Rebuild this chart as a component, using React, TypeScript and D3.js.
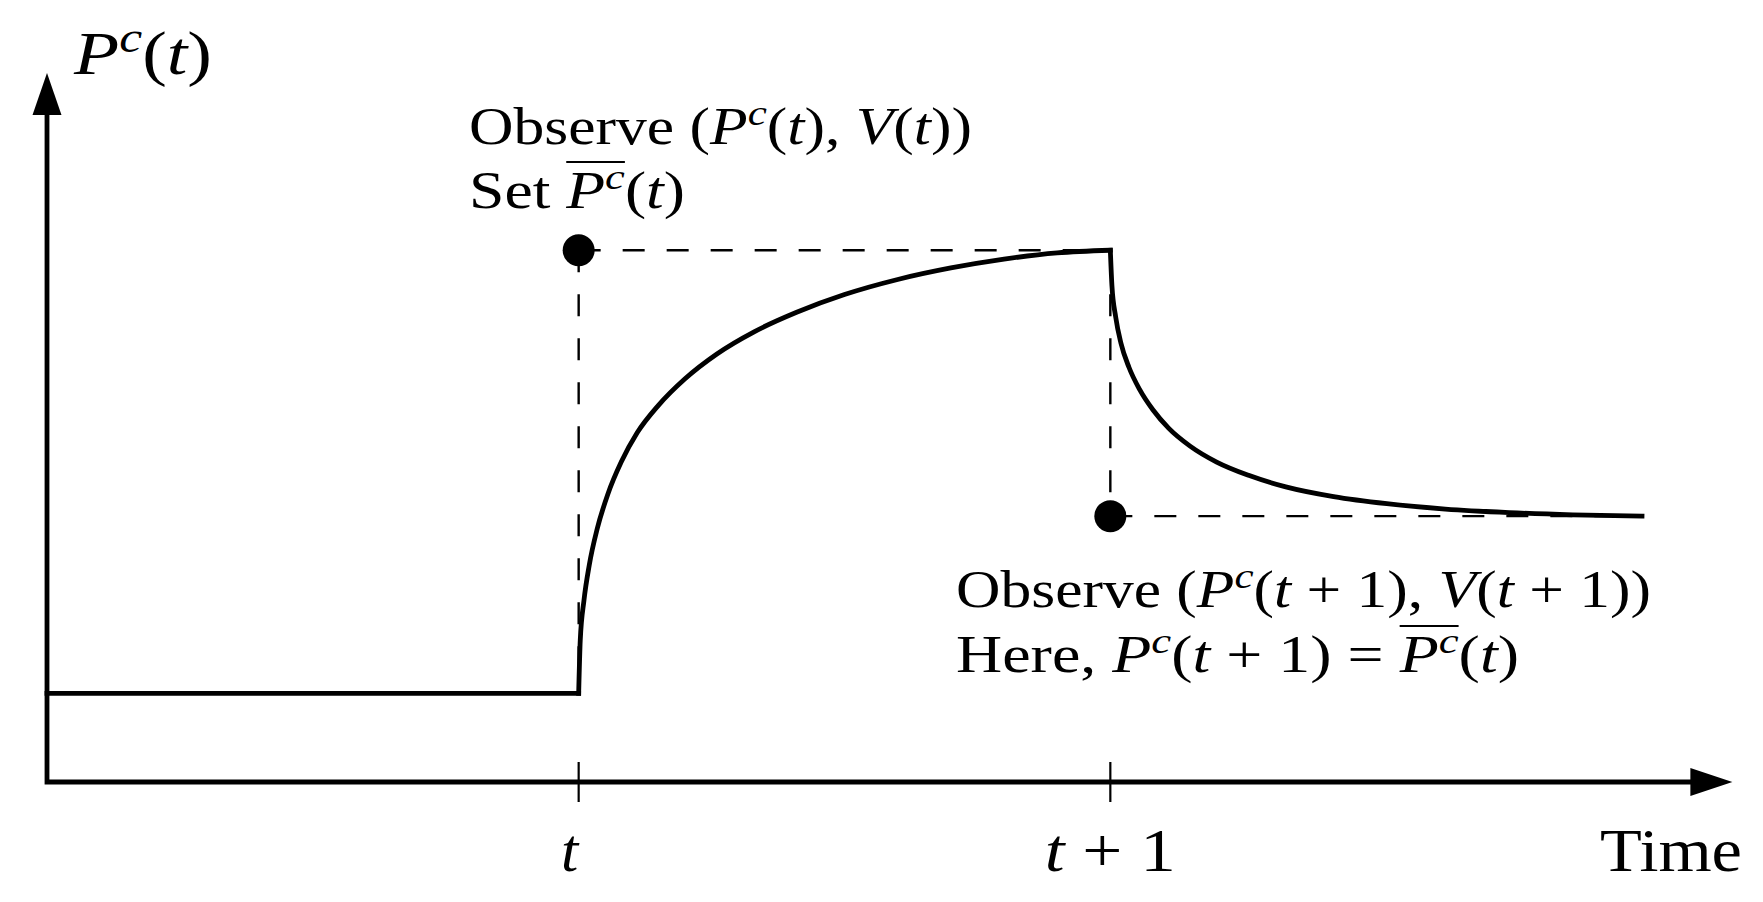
import React, { useRef, useEffect } from 'react';
import * as d3 from 'd3';

const W = 1763;
const H = 902;
const FONT = '"Liberation Serif", "Times New Roman", serif';

// time runs from the y axis (-1) past t (0) and t + 1 (1)
const timeDomain = [-1, 2];
const levelDomain = [0, 8];
const tickTimes = [0, 1];

// price path: [time, level]
const flatPart = [[-1, 1], [0, 1]];
const risePart = [
  [0, 1], [0.003, 1.6], [0.01, 2.05], [0.02, 2.45], [0.035, 2.86], [0.055, 3.25],
  [0.08, 3.61], [0.11, 3.94], [0.15, 4.25], [0.2, 4.55], [0.26, 4.83], [0.33, 5.08],
  [0.41, 5.3], [0.5, 5.5], [0.6, 5.67], [0.7, 5.8], [0.8, 5.9], [0.9, 5.97], [1, 6],
];
const fallPart = [
  [1, 6], [1.003, 5.6], [1.01, 5.25], [1.02, 4.95], [1.035, 4.68], [1.055, 4.43],
  [1.08, 4.2], [1.11, 3.99], [1.15, 3.79], [1.2, 3.61], [1.26, 3.46], [1.33, 3.33],
  [1.42, 3.22], [1.52, 3.14], [1.63, 3.08], [1.75, 3.04], [1.87, 3.015], [2, 3],
];
const observedPoints = [[0, 6], [1, 3]];
const guideLines = [
  [[0, 6], [0, 1]],
  [[0, 6], [1, 6]],
  [[1, 6], [1, 3]],
  [[1, 3], [2, 3]],
];

// text pieces: r = roman, i = italic, s = superscript, b = overlined
const yAxisLabel = [['P', 'i'], ['c', 's'], ['(', 'r'], ['t', 'i'], [')', 'r']];
const xAxisLabel = [['Time', 'r']];
const tickLabels = [
  [['t', 'i']],
  [['t', 'i'], [' + 1', 'r']],
];
const firstNote = [
  [['Observe (', 'r'], ['P', 'i'], ['c', 's'], ['(', 'r'], ['t', 'i'], ['), ', 'r'], ['V', 'i'], ['(', 'r'], ['t', 'i'], ['))', 'r']],
  [['Set ', 'r'], ['P', 'ib'], ['c', 'sb'], ['(', 'r'], ['t', 'i'], [')', 'r']],
];
const secondNote = [
  [['Observe (', 'r'], ['P', 'i'], ['c', 's'], ['(', 'r'], ['t', 'i'], [' + 1), ', 'r'], ['V', 'i'], ['(', 'r'], ['t', 'i'], [' + 1))', 'r']],
  [['Here, ', 'r'], ['P', 'i'], ['c', 's'], ['(', 'r'], ['t', 'i'], [' + 1) = ', 'r'], ['P', 'ib'], ['c', 'sb'], ['(', 'r'], ['t', 'i'], [')', 'r']],
];

const drawMath = (g, segs, x, y, fs, len, anchor = 'start') => {
  const text = g
    .append('text')
    .attr('x', x)
    .attr('y', y)
    .attr('font-size', fs)
    .attr('font-family', FONT)
    .attr('text-anchor', anchor)
    .style('white-space', 'pre');
  let off = 0;
  let idx = 0;
  const bars = [];
  segs.forEach(([str, st]) => {
    const sup = st[0] === 's';
    const target = sup ? -0.36 * fs : 0;
    const ts = text.append('tspan').attr('dy', target - off).text(str);
    off = target;
    if (st[0] !== 'r') ts.attr('font-style', 'italic');
    if (sup) ts.attr('font-size', fs * 0.7);
    if (st.includes('b')) bars.push([idx, idx + str.length - 1]);
    idx += str.length;
  });
  if (len) text.attr('textLength', len).attr('lengthAdjust', 'spacingAndGlyphs');
  if (bars.length) {
    const node = text.node();
    const a = node.getExtentOfChar(bars[0][0]);
    const b = node.getExtentOfChar(bars[bars.length - 1][1]);
    g.append('line')
      .attr('x1', a.x)
      .attr('x2', b.x + b.width)
      .attr('y1', y - 0.885 * fs)
      .attr('y2', y - 0.885 * fs)
      .attr('stroke', '#000')
      .attr('stroke-width', 2.2);
  }
};

const App = () => {
  const svgRef = useRef();

  useEffect(() => {
    document.body.style.margin = '0';
    const svg = d3.select(svgRef.current);
    svg.selectAll('*').remove();

    const x = d3.scaleLinear().domain(timeDomain).range([47, 1642]);
    const y = d3.scaleLinear().domain(levelDomain).range([782, 73]);

    const x0 = x(timeDomain[0]);
    const y0 = y(0);
    const xTip = x(2.17);
    const yTip = y(levelDomain[1]);

    // dashed guides
    svg
      .selectAll('.guide')
      .data(guideLines)
      .join('line')
      .attr('class', 'guide')
      .attr('x1', (d) => x(d[0][0]))
      .attr('y1', (d) => y(d[0][1]))
      .attr('x2', (d) => x(d[1][0]))
      .attr('y2', (d) => y(d[1][1]))
      .attr('stroke', '#000')
      .attr('stroke-width', 2.4)
      .attr('stroke-dasharray', '22,22');

    // axes with arrow heads
    svg
      .append('path')
      .attr('d', `M${x0},${yTip + 40}L${x0},${y0}L${xTip - 40},${y0}`)
      .attr('fill', 'none')
      .attr('stroke', '#000')
      .attr('stroke-width', 4.8)
      .attr('stroke-linejoin', 'miter');
    svg
      .append('path')
      .attr('d', `M${x0},${yTip}L${x0 - 14.5},${yTip + 42}L${x0 + 14.5},${yTip + 42}Z`)
      .attr('fill', '#000');
    svg
      .append('path')
      .attr('d', `M${xTip},${y0}L${xTip - 42},${y0 - 14}L${xTip - 42},${y0 + 14}Z`)
      .attr('fill', '#000');

    svg
      .selectAll('.tick')
      .data(tickTimes)
      .join('line')
      .attr('class', 'tick')
      .attr('x1', (d) => x(d))
      .attr('x2', (d) => x(d))
      .attr('y1', y0 - 20)
      .attr('y2', y0 + 20)
      .attr('stroke', '#000')
      .attr('stroke-width', 2.2);

    // price path
    const flat = d3.line().x((d) => x(d[0])).y((d) => y(d[1]));
    const smooth = d3.line().x((d) => x(d[0])).y((d) => y(d[1])).curve(d3.curveMonotoneX);
    svg
      .selectAll('.price')
      .data([flatPart, risePart, fallPart])
      .join('path')
      .attr('class', 'price')
      .attr('d', (d, i) => (i === 0 ? flat(d) : smooth(d)))
      .attr('fill', 'none')
      .attr('stroke', '#000')
      .attr('stroke-width', 4.8)
      .attr('stroke-linecap', 'square');

    svg
      .selectAll('.obs')
      .data(observedPoints)
      .join('circle')
      .attr('class', 'obs')
      .attr('cx', (d) => x(d[0]))
      .attr('cy', (d) => y(d[1]))
      .attr('r', 16)
      .attr('fill', '#000');

    const g = svg.append('g');
    drawMath(g, yAxisLabel, 74, 74, 62, 138);
    drawMath(g, xAxisLabel, 1742, 871, 62, 142, 'end');
    drawMath(g, tickLabels[0], x(tickTimes[0]) - 9, 871, 62, 0, 'middle');
    drawMath(g, tickLabels[1], x(tickTimes[1]), 871, 62, 131, 'middle');

    drawMath(g, firstNote[0], 469, 144, 52, 503);
    drawMath(g, firstNote[1], 469, 208, 52, 216);
    drawMath(g, secondNote[0], 956, 607, 52, 695);
    drawMath(g, secondNote[1], 956, 672, 52, 563);
  }, []);

  return (
    <svg ref={svgRef} width={W} height={H} style={{ display: 'block', background: '#fff' }} />
  );
};

export default App;
